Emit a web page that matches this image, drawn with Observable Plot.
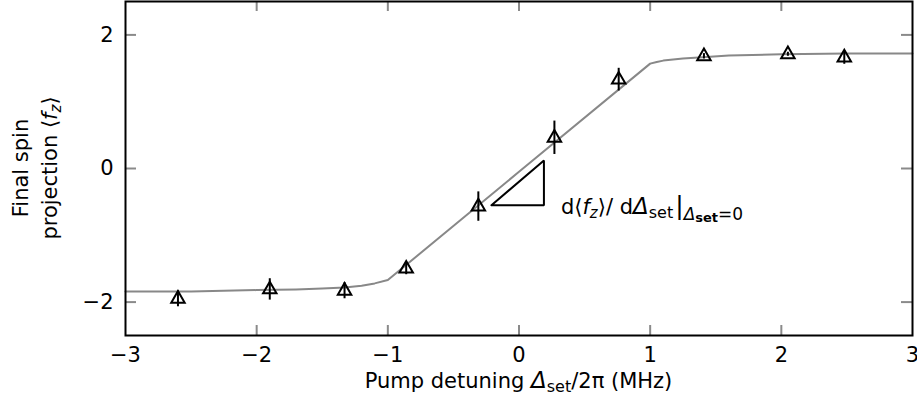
<!DOCTYPE html>
<html><head><meta charset="utf-8">
<script src="https://cdn.jsdelivr.net/npm/d3@7"></script>
<script src="https://cdn.jsdelivr.net/npm/@observablehq/plot@0.6"></script>
<style>
body{margin:0;background:#fff}
#chart svg{font-family:"DejaVu Sans",sans-serif;overflow:visible}
</style>
</head><body><div id="chart"></div>
<script>
// Measured points
const detuning   = [-2.6, -1.9, -1.33, -0.86, -0.31, 0.27, 0.76, 1.41, 2.05, 2.48];
const projection = [-1.95, -1.81, -1.83, -1.50, -0.57, 0.46, 1.33, 1.68, 1.71, 1.66];
const projError  = [0.12, 0.16, 0.12, 0.09, 0.22, 0.25, 0.17, 0.04, 0.03, 0.10];
// Fit curve
const fitX = [-3, -2.5, -2, -1.7, -1.5, -1.33, -1.2, -1.1, -1.0, 0, 1.0, 1.05, 1.1, 1.25, 1.4, 1.6, 2, 2.5, 3];
const fitY = [-1.84, -1.84, -1.82, -1.81, -1.795, -1.78, -1.755, -1.72, -1.67, -0.05, 1.57, 1.595, 1.615, 1.645, 1.665, 1.69, 1.71, 1.72, 1.72];
// Slope triangle corners
const triX = [-0.21, 0.19, 0.19, -0.21];
const triY = [-0.55, -0.55, 0.12, -0.55];
// Axes
const xTicks = [-3, -2, -1, 0, 1, 2, 3];
const xInnerTicks = [-2, -1, 0, 1, 2];
const yTicks = [-2, 0, 2];
const xDomain = [-3, 3];
const yDomain = [-2.5, 2.5];

const pts = detuning.map((x, i) => ({x, y: projection[i], e: projError[i]}));
const fit = fitX.map((x, i) => ({x, y: fitY[i]}));
const tri = triX.map((x, i) => ({x, y: triY[i]}));

const W = 917, H = 400;
const mL = 125, mR = 5, mT = 1, mB = 65;
const xTickLen = 10 / ((H - mT - mB) / (yDomain[1] - yDomain[0]));
const yTickLen = 11 / ((W - mL - mR) / (xDomain[1] - xDomain[0]));
const tickColor = "#8a8a8a";
const fmt = d => String(d).replace("-", "\u2212");
const FS = 21;

const plot = Plot.plot({
  width: W, height: H,
  marginLeft: mL, marginRight: mR, marginTop: mT, marginBottom: mB,
  style: {fontSize: FS + "px", fontFamily: "DejaVu Sans, sans-serif"},
  x: {domain: xDomain, label: null},
  y: {domain: yDomain, label: null},
  marks: [
    Plot.axisX({ticks: xTicks, tickFormat: fmt, tickSize: 0, tickPadding: 12, label: null, fontSize: FS}),
    Plot.axisY({ticks: yTicks, tickFormat: fmt, tickSize: 0, tickPadding: 12, label: null, fontSize: FS}),
    // inward ticks
    Plot.ruleX(xInnerTicks, {x: d => d, y1: yDomain[0], y2: yDomain[0] + xTickLen, stroke: tickColor, strokeWidth: 2}),
    Plot.ruleX(xInnerTicks, {x: d => d, y1: yDomain[1], y2: yDomain[1] - xTickLen, stroke: tickColor, strokeWidth: 2}),
    Plot.ruleY(yTicks, {y: d => d, x1: xDomain[0], x2: xDomain[0] + yTickLen, stroke: tickColor, strokeWidth: 2}),
    Plot.ruleY(yTicks, {y: d => d, x1: xDomain[1], x2: xDomain[1] - yTickLen, stroke: tickColor, strokeWidth: 2}),
    Plot.line(fit, {x: "x", y: "y", stroke: "#888", strokeWidth: 2, curve: "linear"}),
    Plot.line(tri, {x: "x", y: "y", stroke: "black", strokeWidth: 2, strokeLinejoin: "miter"}),
    Plot.ruleX(pts, {x: "x", y1: d => d.y - d.e, y2: d => d.y + d.e, stroke: "black", strokeWidth: 2}),
    Plot.dot(pts, {x: "x", y: "y", symbol: "triangle", r: 5, stroke: "black", strokeWidth: 2, fill: "none"}),
    Plot.text([{x: triX[1], y: triY[0]}], {x: "x", y: "y", text: () => "SLOPE", textAnchor: "start", dx: 17, dy: 2, fontSize: FS, fill: "black"}),
    Plot.frame({stroke: "black", strokeWidth: 2})
  ]
});
document.getElementById("chart").appendChild(plot);

const svg = d3.select(plot);
// rich annotation text
svg.selectAll("text").filter(function(){ return this.textContent === "SLOPE"; }).each(function(){
  const t = d3.select(this);
  t.text("");
  const add = (s, o = {}) => {
    const ts = t.append("tspan").text(s);
    if (o.italic) ts.attr("font-style", "italic");
    if (o.size) ts.attr("font-size", o.size);
    if (o.bold) ts.attr("font-weight", "bold");
    if (o.dy) ts.attr("dy", o.dy);
    if (o.dx) ts.attr("dx", o.dx);
    return ts;
  };
  add("d⟨");
  add("f", {italic: true});
  add("z", {italic: true, size: 15, dy: 4});
  add("⟩/ d", {dy: -4});
  add("Δ", {italic: true, size: 23});
  add("set", {size: 16, dy: 4});
  add("|", {dy: -4, size: 25, dx: 2});
  add("Δ", {italic: true, size: 17, dy: 6});
  add("set", {bold: true, size: 13, dy: 2});
  add("=0", {size: 17, dy: -2});
});

// axis titles
const xs = plot.scale("x"), ys = plot.scale("y");
const xl = svg.append("text")
  .attr("x", xs.apply(0)).attr("y", 388)
  .attr("text-anchor", "middle").attr("font-size", FS).attr("fill", "black");
xl.append("tspan").text("Pump detuning ");
xl.append("tspan").text("Δ").attr("font-style", "italic").attr("font-size", 23);
xl.append("tspan").text("set").attr("font-size", 16).attr("dy", 4);
xl.append("tspan").text("/2π (MHz)").attr("dy", -4);

const yc = ys.apply(0);
svg.append("text")
  .attr("transform", `translate(28,${yc}) rotate(-90)`)
  .attr("text-anchor", "middle").attr("font-size", FS).attr("fill", "black")
  .text("Final spin");
const yl2 = svg.append("text")
  .attr("transform", `translate(57,${yc}) rotate(-90)`)
  .attr("text-anchor", "middle").attr("font-size", FS).attr("fill", "black");
yl2.append("tspan").text("projection ⟨");
yl2.append("tspan").text("f").attr("font-style", "italic");
yl2.append("tspan").text("z").attr("font-style", "italic").attr("font-size", 15).attr("dy", 4);
yl2.append("tspan").text("⟩").attr("dy", -4);
</script>
</body></html>
